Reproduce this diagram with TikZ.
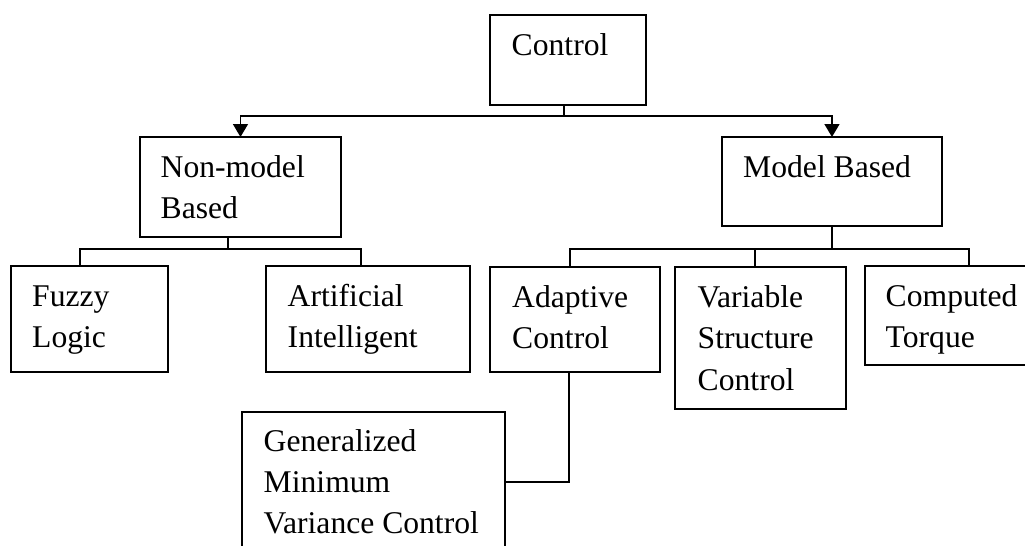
\documentclass[tikz,border=0pt]{standalone}
\usepackage{fontspec}
\setmainfont{Liberation Serif}
\usetikzlibrary{arrows.meta}
\begin{document}
\begin{tikzpicture}[x=0.02cm, y=-0.02cm, >={Triangle[length=0.26cm,width=0.3cm]}, line width=0.85pt,
    box/.style={draw, rectangle, anchor=north west, inner sep=0pt, outer sep=0pt},
    txt/.style={anchor=north west, align=left, inner sep=0pt, font=\fontsize{18pt}{23.5pt}\selectfont}]
  \clip (0,0) rectangle (1025,545);
  \node[box, minimum width=3.12cm, minimum height=1.8cm] (ctrl) at (490,15) {};
  \node[box, minimum width=4.02cm, minimum height=2cm] (nonmod) at (140,137) {};
  \node[box, minimum width=4.4cm, minimum height=1.78cm] (model) at (722,137) {};
  \node[box, minimum width=3.14cm, minimum height=2.12cm] (fuzzy) at (11,266) {};
  \node[box, minimum width=4.08cm, minimum height=2.12cm] (artif) at (266,266) {};
  \node[box, minimum width=3.4cm, minimum height=2.1cm] (adapt) at (490,267) {};
  \node[box, minimum width=3.42cm, minimum height=2.84cm] (varstr) at (675,267) {};
  \node[box, minimum width=3.5cm, minimum height=1.98cm] (comput) at (865,266) {};
  \node[box, minimum width=5.26cm, minimum height=3cm] (gmv) at (242,412) {};

  \node[txt] (ctrlt) at ([xshift=0.42cm, yshift=-6.2pt]ctrl.north west) {\strut Control};
  \node[txt] (nonmodt) at ([xshift=0.4cm, yshift=-6.2pt]nonmod.north west) {\strut Non-model\\Based};
  \node[txt] (modelt) at ([xshift=0.41cm, yshift=-6.2pt]model.north west) {\strut Model Based};
  \node[txt] (fuzzyt) at ([xshift=0.41cm, yshift=-6.2pt]fuzzy.north west) {\strut Fuzzy\\Logic};
  \node[txt] (artift) at ([xshift=0.42cm, yshift=-6.2pt]artif.north west) {\strut Artificial\\Intelligent};
  \node[txt] (adaptt) at ([xshift=0.43cm, yshift=-6.2pt]adapt.north west) {\strut Adaptive\\Control};
  \node[txt] (varstrt) at ([xshift=0.44cm, yshift=-6.2pt]varstr.north west) {\strut Variable\\Structure\\Control};
  \node[txt] (computt) at ([xshift=0.4cm, yshift=-6.2pt]comput.north west) {\strut Computed\\Torque};
  \node[txt] (gmvt) at ([xshift=0.42cm, yshift=-5.4pt]gmv.north west) {\strut Generalized\\Minimum\\Variance Control};

  \coordinate (c0) at (564,116);
  \coordinate (n0) at (228,249);
  \coordinate (n1) at (80,249);
  \coordinate (n2) at (361,249);
  \coordinate (m1) at (570,249);
  \coordinate (m2) at (755,249);
  \coordinate (m3) at (969,249);
  \coordinate (a1) at (569,482);

  \draw (c0 |- ctrl.south) -- (c0);
  \draw[->] (c0) -| (nonmod.north);
  \draw[->] (c0) -| (model.north);
  \draw (n0 |- nonmod.south) -- (n0);
  \draw (n1 |- fuzzy.north) -- (n1) -- (n2) -- (n2 |- artif.north);
  \draw (model.south) -- (model.south |- m1);
  \draw (m1 |- adapt.north) -- (m1) -- (m3) -- (m3 |- comput.north);
  \draw (m2) -- (m2 |- varstr.north);
  \draw (a1 |- adapt.south) -- (a1) -- (a1 -| gmv.east);
\end{tikzpicture}
\end{document}
